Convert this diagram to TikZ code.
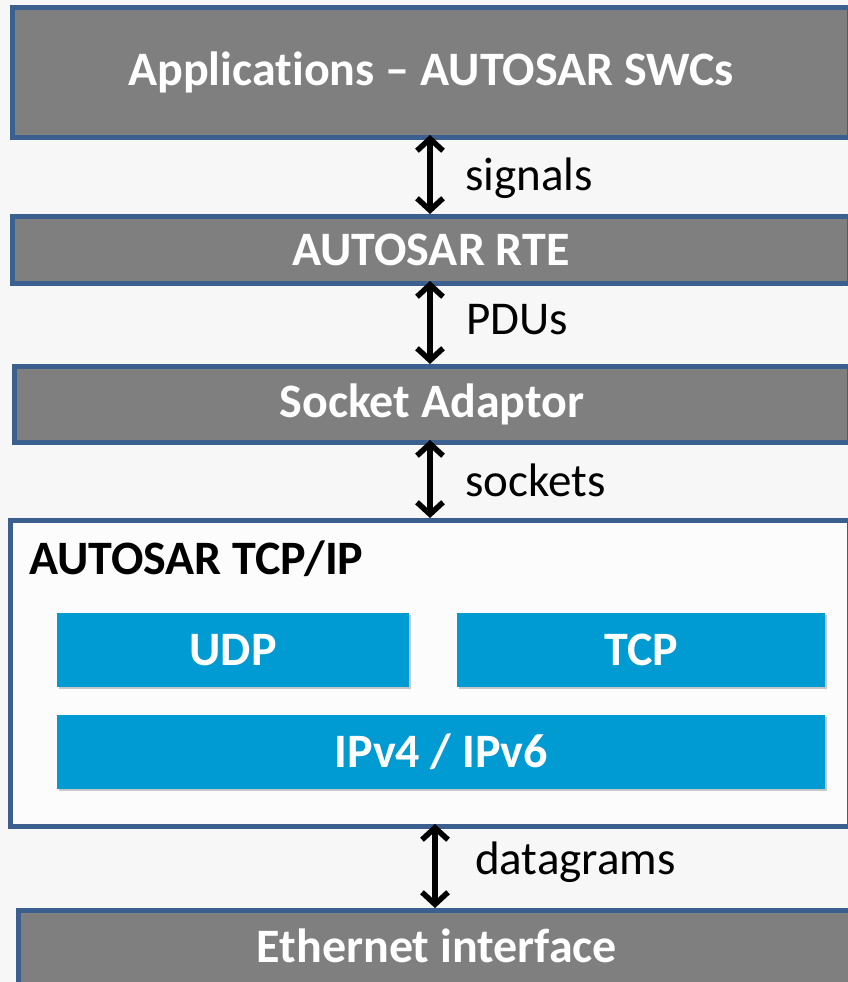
\documentclass[tikz,border=0pt]{standalone}
\usepackage{fontspec}
\setmainfont[Ligatures=NoCommon]{Carlito}
\usetikzlibrary{arrows.meta,shadows}
\definecolor{bordblue}{HTML}{3B5F8E}
\definecolor{layergray}{HTML}{7F7F7F}
\definecolor{protoblue}{HTML}{009BD2}
\definecolor{bgpaper}{HTML}{F7F7F7}
\tikzset{
  layer/.style={draw=bordblue, line width=5pt, fill=layergray, text=white,
    font=\fontsize{48}{52}\selectfont\bfseries, inner sep=0pt, anchor=north west},
  proto/.style={fill=protoblue, text=white, inner sep=0pt, anchor=north west,
    font=\fontsize{48}{52}\selectfont\bfseries,
    drop shadow={shadow xshift=1.5pt, shadow yshift=-2pt, opacity=0.35, fill=black!60}},
  flow/.style={line width=5.5pt, {Straight Barb[length=12pt,width=26pt,line width=5.5pt]}-{Straight Barb[length=12pt,width=26pt,line width=5.5pt]}},
  lbl/.style={font=\fontsize{47}{52}\selectfont, anchor=west, inner sep=0pt}
}
\begin{document}
\begin{tikzpicture}[x=1pt,y=-1pt]
\fill[bgpaper] (0,0) rectangle (848,982);
\useasboundingbox (0,0) rectangle (848,982);
\node[layer, minimum width=837pt, minimum height=130pt] (app) at (10,5) {Applicat\kern0pt ions -- AUTOSAR SWCs};
\node[layer, minimum width=837pt, minimum height=67pt] (rte) at (10,214) {AUTOSAR RTE};
\node[layer, minimum width=835pt, minimum height=76pt] (sock) at (12,364) {Socket Adaptor};
\node[draw=bordblue, line width=5pt, fill=white!60!bgpaper, minimum width=839pt, minimum height=306pt, inner sep=0pt, anchor=north west] (stack) at (8,518) {};
\node[anchor=north west, inner sep=0pt, font=\fontsize{48}{52}\selectfont\bfseries] (stacklbl) at (29,541) {AUTOSAR TCP/IP};
\node[proto, minimum width=352pt, minimum height=74pt] (udp) at (57,613) {UDP};
\node[proto, minimum width=368pt, minimum height=74pt] (tcp) at (457,613) {TCP};
\node[proto, minimum width=768pt, minimum height=74pt] (ip) at (57,715) {IPv4 / IPv6};
\node[layer, minimum width=833pt, minimum height=80pt] (eth) at (16,908) {};
\node[text=white, font=\fontsize{48}{52}\selectfont\bfseries] (ethlbl) at (437,946) {Ethernet interface};
\coordinate (a1) at (430,135); \coordinate (b1) at (430,214);
\coordinate (a2) at (430,281); \coordinate (b2) at (430,364);
\coordinate (a3) at (430,440); \coordinate (b3) at (430,518);
\coordinate (a4) at (435,824); \coordinate (b4) at (435,908);
\draw[flow] (a1) -- (b1);
\draw[flow] (a2) -- (b2);
\draw[flow] (a3) -- (b3);
\draw[flow] (a4) -- (b4);
\node[lbl] (l1) at (465,178) {signals};
\node[lbl] (l2) at (466,320) {PDUs};
\node[lbl] (l3) at (465,480) {sockets};
\node[lbl] (l4) at (475,862) {datagrams};
\end{tikzpicture}
\end{document}
